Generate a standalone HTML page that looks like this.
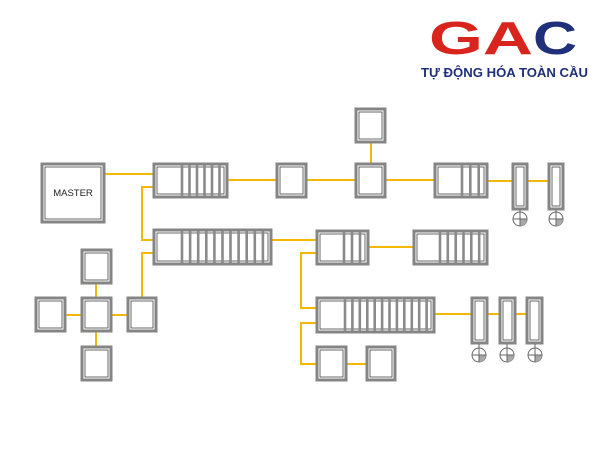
<!DOCTYPE html>
<html><head><meta charset="utf-8"><style>
html,body{margin:0;padding:0;background:#fff;width:600px;height:450px;overflow:hidden}
svg{display:block}
.b{fill:#fff;stroke:#858585;stroke-width:3}
.i{fill:none;stroke:#444;stroke-width:0.8}
.s{stroke:#8a8a8a;stroke-width:2.6}
.y{stroke:#f5b800;stroke-width:2;fill:none}
.c{fill:#fff;stroke:#666;stroke-width:1}
</style></head><body>
<svg width="600" height="450" xmlns="http://www.w3.org/2000/svg">
<!-- logo -->
<text x="429" y="54" font-family="Liberation Sans, sans-serif" font-weight="bold" font-size="46" fill="#d9231d" textLength="104" lengthAdjust="spacingAndGlyphs">GA</text>
<text x="533" y="54" font-family="Liberation Sans, sans-serif" font-weight="bold" font-size="46" fill="#1f2f7a" textLength="44" lengthAdjust="spacingAndGlyphs">C</text>
<text x="421" y="77" font-family="Liberation Sans, sans-serif" font-weight="bold" font-size="13" fill="#1f2f7a" textLength="167" lengthAdjust="spacingAndGlyphs">TỰ ĐỘNG HÓA TOÀN CẦU</text>

<!-- connectors -->
<g class="y">
<line x1="104" y1="174" x2="154" y2="174"/>
<line x1="227" y1="180" x2="278" y2="180"/>
<polyline points="154,187 142,187 142,240 154,240"/>
<polyline points="154,253 142,253 142,298"/>
<line x1="271" y1="240" x2="317" y2="240"/>
<line x1="306" y1="180" x2="435" y2="180"/>
<line x1="371" y1="142" x2="371" y2="164"/>
<line x1="487" y1="181" x2="513" y2="181"/>
<line x1="527" y1="181" x2="549" y2="181"/>
<line x1="368" y1="247" x2="414" y2="247"/>
<polyline points="317,253 301,253 301,308 317,308"/>
<polyline points="317,323 301,323 301,364 317,364"/>
<line x1="346" y1="364" x2="367" y2="364"/>
<line x1="434" y1="314" x2="472" y2="314"/>
<line x1="487" y1="314" x2="500" y2="314"/>
<line x1="515" y1="314" x2="527" y2="314"/>
<line x1="65" y1="315" x2="82" y2="315"/>
<line x1="111" y1="315" x2="128" y2="315"/>
<line x1="96" y1="283" x2="96" y2="298"/>
<line x1="96" y1="331" x2="96" y2="347"/>
</g>

<!-- MASTER -->
<rect class="b" x="42" y="164" width="62" height="58"/><rect class="i" x="45" y="167" width="56" height="52"/>
<text x="73" y="196" text-anchor="middle" font-family="Liberation Sans, sans-serif" font-size="9.5" fill="#222">MASTER</text>

<!-- simple boxes -->
<g>
<rect class="b" x="277" y="164" width="29" height="33"/><rect class="i" x="280" y="167" width="23" height="27"/>
<rect class="b" x="356" y="109" width="29" height="33"/><rect class="i" x="359" y="112" width="23" height="27"/>
<rect class="b" x="356" y="164" width="29" height="33"/><rect class="i" x="359" y="167" width="23" height="27"/>
<rect class="b" x="82" y="250" width="29" height="33"/><rect class="i" x="85" y="253" width="23" height="27"/>
<rect class="b" x="82" y="298" width="29" height="33"/><rect class="i" x="85" y="301" width="23" height="27"/>
<rect class="b" x="36" y="298" width="29" height="33"/><rect class="i" x="39" y="301" width="23" height="27"/>
<rect class="b" x="128" y="298" width="28" height="33"/><rect class="i" x="131" y="301" width="22" height="27"/>
<rect class="b" x="82" y="347" width="29" height="33"/><rect class="i" x="85" y="350" width="23" height="27"/>
<rect class="b" x="317" y="347" width="29" height="33"/><rect class="i" x="320" y="350" width="23" height="27"/>
<rect class="b" x="367" y="347" width="28" height="33"/><rect class="i" x="370" y="350" width="22" height="27"/>
</g>

<!-- module 1 -->
<rect class="b" x="154" y="164" width="73" height="33"/><rect class="i" x="157" y="167" width="67" height="27"/>
<g class="s"><line x1="182" y1="165" x2="182" y2="196"/><line x1="189.5" y1="165" x2="189.5" y2="196"/><line x1="197" y1="165" x2="197" y2="196"/><line x1="204.5" y1="165" x2="204.5" y2="196"/><line x1="212" y1="165" x2="212" y2="196"/><line x1="219.5" y1="165" x2="219.5" y2="196"/></g>
<!-- module 2 -->
<rect class="b" x="154" y="230" width="117" height="34"/><rect class="i" x="157" y="233" width="111" height="28"/>
<g class="s"><line x1="182" y1="231" x2="182" y2="263"/><line x1="190.1" y1="231" x2="190.1" y2="263"/><line x1="198.2" y1="231" x2="198.2" y2="263"/><line x1="206.3" y1="231" x2="206.3" y2="263"/><line x1="214.4" y1="231" x2="214.4" y2="263"/><line x1="222.5" y1="231" x2="222.5" y2="263"/><line x1="230.5" y1="231" x2="230.5" y2="263"/><line x1="238.6" y1="231" x2="238.6" y2="263"/><line x1="246.7" y1="231" x2="246.7" y2="263"/><line x1="254.8" y1="231" x2="254.8" y2="263"/><line x1="262.9" y1="231" x2="262.9" y2="263"/></g>
<!-- module 3 -->
<rect class="b" x="317" y="231" width="51" height="33"/><rect class="i" x="320" y="234" width="45" height="27"/>
<g class="s"><line x1="344" y1="232" x2="344" y2="263"/><line x1="352" y1="232" x2="352" y2="263"/><line x1="360" y1="232" x2="360" y2="263"/></g>
<!-- module 4 -->
<rect class="b" x="435" y="164" width="52" height="33"/><rect class="i" x="438" y="167" width="46" height="27"/>
<g class="s"><line x1="462" y1="165" x2="462" y2="196"/><line x1="470.3" y1="165" x2="470.3" y2="196"/><line x1="478.7" y1="165" x2="478.7" y2="196"/></g>
<!-- module 5 -->
<rect class="b" x="414" y="231" width="73" height="33"/><rect class="i" x="417" y="234" width="67" height="27"/>
<g class="s"><line x1="440" y1="232" x2="440" y2="263"/><line x1="447.8" y1="232" x2="447.8" y2="263"/><line x1="455.7" y1="232" x2="455.7" y2="263"/><line x1="463.5" y1="232" x2="463.5" y2="263"/><line x1="471.3" y1="232" x2="471.3" y2="263"/><line x1="479.2" y1="232" x2="479.2" y2="263"/></g>
<!-- module 6 -->
<rect class="b" x="317" y="298" width="117" height="34"/><rect class="i" x="320" y="301" width="111" height="28"/>
<g class="s"><line x1="345" y1="299" x2="345" y2="331"/><line x1="352.4" y1="299" x2="352.4" y2="331"/><line x1="359.8" y1="299" x2="359.8" y2="331"/><line x1="367.3" y1="299" x2="367.3" y2="331"/><line x1="374.7" y1="299" x2="374.7" y2="331"/><line x1="382.1" y1="299" x2="382.1" y2="331"/><line x1="389.5" y1="299" x2="389.5" y2="331"/><line x1="396.9" y1="299" x2="396.9" y2="331"/><line x1="404.3" y1="299" x2="404.3" y2="331"/><line x1="411.8" y1="299" x2="411.8" y2="331"/><line x1="419.2" y1="299" x2="419.2" y2="331"/><line x1="426.6" y1="299" x2="426.6" y2="331"/></g>

<!-- slim modules with motors -->
<g>
<rect class="b" x="513" y="164" width="14" height="45"/><rect class="i" x="516" y="167" width="8" height="39"/>
<rect class="b" x="549" y="164" width="14" height="45"/><rect class="i" x="552" y="167" width="8" height="39"/>
<rect class="b" x="472" y="298" width="15" height="45"/><rect class="i" x="475" y="301" width="9" height="39"/>
<rect class="b" x="500" y="298" width="15" height="45"/><rect class="i" x="503" y="301" width="9" height="39"/>
<rect class="b" x="527" y="298" width="15" height="45"/><rect class="i" x="530" y="301" width="9" height="39"/>
</g>
<g stroke="#666" stroke-width="1">
<line x1="520" y1="210" x2="520" y2="213"/><line x1="556" y1="210" x2="556" y2="213"/>
<line x1="479" y1="344" x2="479" y2="348"/><line x1="507" y1="344" x2="507" y2="348"/><line x1="535" y1="344" x2="535" y2="348"/>
</g>
<g>
<circle class="c" cx="520" cy="219" r="7"/><path d="M520 219h7a7 7 0 0 1-7 7z" fill="#aaa"/><path d="M513 219h14M520 212v14" stroke="#666" stroke-width="1"/>
<circle class="c" cx="556" cy="219" r="7"/><path d="M556 219h7a7 7 0 0 1-7 7z" fill="#aaa"/><path d="M549 219h14M556 212v14" stroke="#666" stroke-width="1"/>
<circle class="c" cx="479" cy="355" r="7"/><path d="M479 355h7a7 7 0 0 1-7 7z" fill="#aaa"/><path d="M472 355h14M479 348v14" stroke="#666" stroke-width="1"/>
<circle class="c" cx="507" cy="355" r="7"/><path d="M507 355h7a7 7 0 0 1-7 7z" fill="#aaa"/><path d="M500 355h14M507 348v14" stroke="#666" stroke-width="1"/>
<circle class="c" cx="535" cy="355" r="7"/><path d="M535 355h7a7 7 0 0 1-7 7z" fill="#aaa"/><path d="M528 355h14M535 348v14" stroke="#666" stroke-width="1"/>
</g>
</svg>
</body></html>
